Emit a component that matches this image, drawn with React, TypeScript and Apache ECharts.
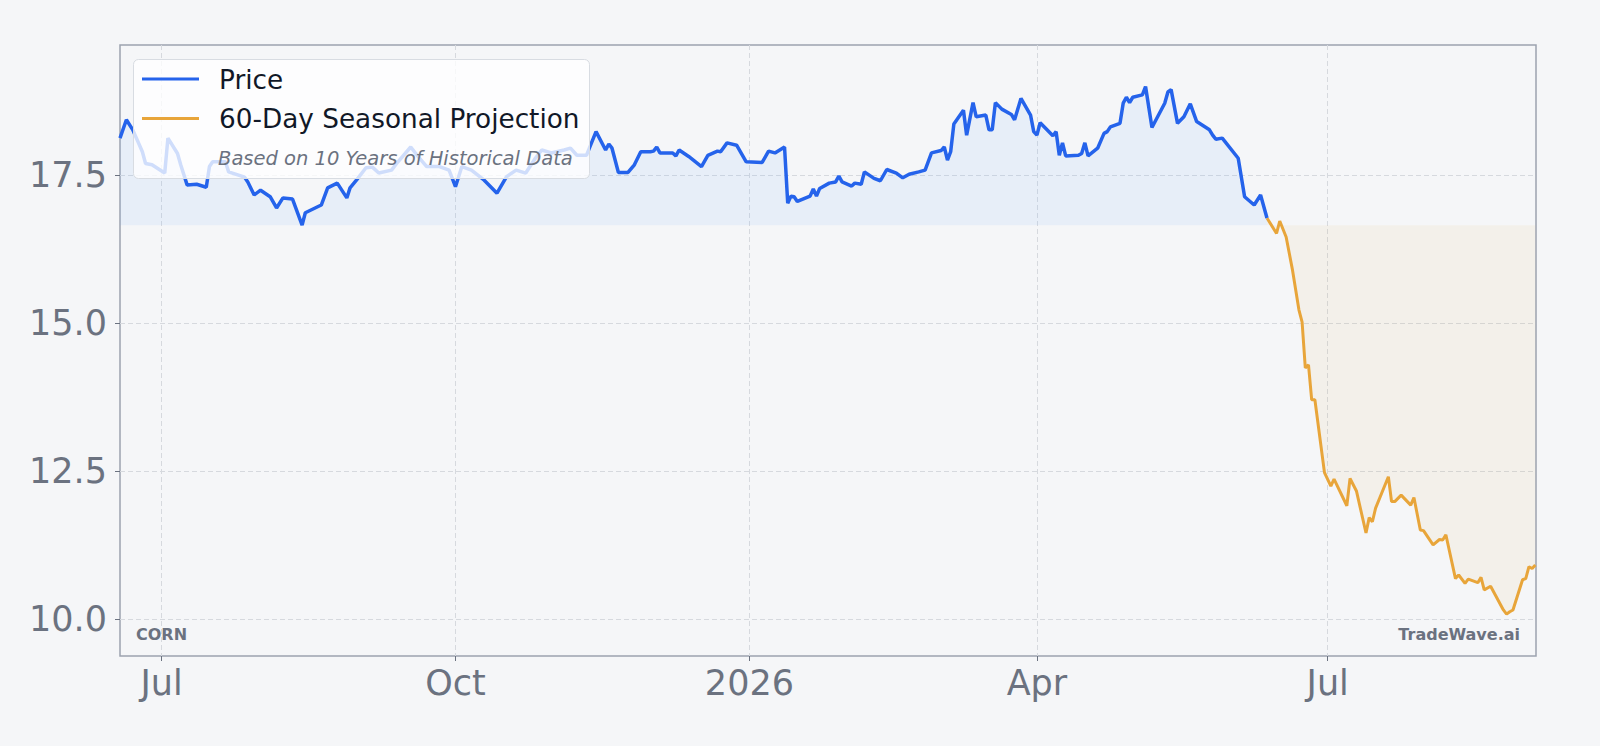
import { useEffect, useRef } from 'react';
import * as echarts from 'echarts';

// Daily closes
const priceDates = [
  '2025-06-18', '2025-06-20', '2025-06-22', '2025-06-25', '2025-06-26', '2025-06-28',
  '2025-07-02', '2025-07-03', '2025-07-06', '2025-07-07', '2025-07-09', '2025-07-12',
  '2025-07-15', '2025-07-16', '2025-07-17', '2025-07-21', '2025-07-22', '2025-07-27',
  '2025-07-28', '2025-07-30', '2025-08-01', '2025-08-04', '2025-08-06', '2025-08-08',
  '2025-08-11', '2025-08-14', '2025-08-15', '2025-08-20', '2025-08-22', '2025-08-25',
  '2025-08-28', '2025-08-29', '2025-08-31', '2025-09-03', '2025-09-05', '2025-09-07',
  '2025-09-11', '2025-09-13', '2025-09-17', '2025-09-19', '2025-09-22', '2025-09-26',
  '2025-09-29', '2025-10-01', '2025-10-03', '2025-10-06', '2025-10-10', '2025-10-14',
  '2025-10-17', '2025-10-20', '2025-10-23', '2025-10-26', '2025-10-28', '2025-10-31',
  '2025-11-04', '2025-11-06', '2025-11-08', '2025-11-11', '2025-11-14', '2025-11-17',
  '2025-11-18', '2025-11-19', '2025-11-21', '2025-11-24', '2025-11-26', '2025-11-28',
  '2025-12-01', '2025-12-02', '2025-12-03', '2025-12-04', '2025-12-08', '2025-12-09',
  '2025-12-10', '2025-12-13', '2025-12-17', '2025-12-19', '2025-12-22', '2025-12-23',
  '2025-12-25', '2025-12-28', '2025-12-31', '2026-01-05', '2026-01-07', '2026-01-09',
  '2026-01-12', '2026-01-13', '2026-01-14', '2026-01-15', '2026-01-16', '2026-01-20',
  '2026-01-21', '2026-01-22', '2026-01-23', '2026-01-26', '2026-01-28', '2026-01-29',
  '2026-01-30', '2026-02-02', '2026-02-03', '2026-02-05', '2026-02-06', '2026-02-09',
  '2026-02-11', '2026-02-13', '2026-02-16', '2026-02-18', '2026-02-20', '2026-02-23',
  '2026-02-25', '2026-02-27', '2026-03-02', '2026-03-03', '2026-03-04', '2026-03-05',
  '2026-03-06', '2026-03-09', '2026-03-10', '2026-03-12', '2026-03-13', '2026-03-16',
  '2026-03-17', '2026-03-18', '2026-03-19', '2026-03-21', '2026-03-24', '2026-03-25',
  '2026-03-27', '2026-03-30', '2026-03-31', '2026-04-01', '2026-04-02', '2026-04-06',
  '2026-04-07', '2026-04-08', '2026-04-09', '2026-04-10', '2026-04-14', '2026-04-15',
  '2026-04-16', '2026-04-17', '2026-04-20', '2026-04-22', '2026-04-23', '2026-04-24',
  '2026-04-27', '2026-04-28', '2026-04-29', '2026-04-30', '2026-05-01', '2026-05-04',
  '2026-05-05', '2026-05-07', '2026-05-11', '2026-05-12', '2026-05-13', '2026-05-15',
  '2026-05-17', '2026-05-19', '2026-05-21', '2026-05-25', '2026-05-26', '2026-05-27',
  '2026-05-29', '2026-06-03', '2026-06-05', '2026-06-08', '2026-06-10', '2026-06-12',
];
const priceValues = [
  18.13, 18.44, 18.27, 17.9, 17.7, 17.68,
  17.54, 18.13, 17.87, 17.68, 17.34, 17.35,
  17.3, 17.65, 17.73, 17.73, 17.56, 17.47,
  17.39, 17.17, 17.25, 17.14, 16.95, 17.12,
  17.1, 16.66, 16.87, 17.0, 17.29, 17.37,
  17.12, 17.29, 17.42, 17.63, 17.64, 17.54,
  17.59, 17.73, 17.98, 17.84, 17.65, 17.65,
  17.59, 17.31, 17.65, 17.59, 17.42, 17.2,
  17.48, 17.59, 17.54, 17.79, 17.93, 17.88,
  17.93, 17.96, 17.84, 17.84, 18.24, 17.93,
  18.03, 17.96, 17.55, 17.55, 17.68, 17.9,
  17.9, 17.91, 17.98, 17.88, 17.88, 17.83,
  17.93, 17.82, 17.65, 17.84, 17.91, 17.9,
  18.05, 18.01, 17.73, 17.72, 17.91, 17.88,
  17.98, 17.03, 17.15, 17.14, 17.06, 17.15,
  17.27, 17.15, 17.28, 17.37, 17.39, 17.49,
  17.39, 17.32, 17.37, 17.35, 17.56, 17.45,
  17.41, 17.6, 17.54, 17.46, 17.52, 17.56,
  17.59, 17.88, 17.92, 17.98, 17.76, 17.9,
  18.37, 18.6, 18.18, 18.73, 18.49, 18.52,
  18.27, 18.27, 18.73, 18.62, 18.53, 18.44,
  18.8, 18.52, 18.24, 18.18, 18.39, 18.17,
  18.24, 17.84, 18.05, 17.83, 17.84, 17.87,
  18.05, 17.83, 17.96, 18.21, 18.24, 18.32,
  18.38, 18.72, 18.82, 18.73, 18.82, 18.86,
  19.0, 18.31, 18.72, 18.91, 18.95, 18.38,
  18.49, 18.71, 18.41, 18.27, 18.18, 18.11,
  18.13, 17.79, 17.14, 17.0, 17.17, 16.78,
];

// 60-day seasonal projection
const projectionDates = [
  '2026-06-12', '2026-06-15', '2026-06-16', '2026-06-18', '2026-06-20', '2026-06-22',
  '2026-06-23', '2026-06-24', '2026-06-25', '2026-06-26', '2026-06-27', '2026-06-30',
  '2026-07-02', '2026-07-03', '2026-07-07', '2026-07-08', '2026-07-10', '2026-07-13',
  '2026-07-14', '2026-07-15', '2026-07-16', '2026-07-20', '2026-07-21', '2026-07-22',
  '2026-07-24', '2026-07-27', '2026-07-28', '2026-07-30', '2026-07-31', '2026-08-03',
  '2026-08-05', '2026-08-06', '2026-08-07', '2026-08-10', '2026-08-11', '2026-08-13',
  '2026-08-14', '2026-08-17', '2026-08-18', '2026-08-19', '2026-08-21', '2026-08-25',
  '2026-08-26', '2026-08-27', '2026-08-28', '2026-08-31', '2026-09-01', '2026-09-02',
  '2026-09-03', '2026-09-04',
];
const projectionValues = [
  16.78, 16.52, 16.73, 16.46, 15.9, 15.23,
  15.02, 14.25, 14.3, 13.71, 13.71, 12.48,
  12.25, 12.37, 11.92, 12.38, 12.17, 11.46,
  11.72, 11.65, 11.88, 12.41, 11.99, 11.99,
  12.1, 11.93, 12.06, 11.51, 11.5, 11.26,
  11.35, 11.34, 11.43, 10.69, 10.75, 10.61,
  10.68, 10.62, 10.71, 10.5, 10.56, 10.16,
  10.09, 10.13, 10.16, 10.67, 10.69, 10.89,
  10.86, 10.92,
];

const xTicks = ['2025-07-01', '2025-10-01', '2026-01-01', '2026-04-01', '2026-07-01'];
const yTicks = [10, 12.5, 15, 17.5];
const monthNames = ['Jan', 'Feb', 'Mar', 'Apr', 'May', 'Jun', 'Jul', 'Aug', 'Sep', 'Oct', 'Nov', 'Dec'];

const FONT = 'DejaVu Sans';
const BLUE = '#2563eb';
const ORANGE = '#e8a53a';

// local-time timestamp from 'YYYY-MM-DD'
const ts = (s: string, hour = 0) => {
  const [y, m, d] = s.split('-').map(Number);
  return new Date(y, m - 1, d, hour).getTime();
};

export default function App() {
  const chartRef = useRef<HTMLDivElement>(null);

  useEffect(() => {
    if (!chartRef.current) return;
    const chart = echarts.init(chartRef.current, undefined, { renderer: 'svg' });

    const baseline = Math.min(...priceValues);
    const xTickValues = xTicks.map((s) => ts(s));

    const option = {
      animation: false,
      backgroundColor: '#f5f6f8',
      grid: {
        left: 120,
        top: 45,
        right: 64,
        bottom: 90,
        show: true,
        borderColor: '#9ca3af',
        borderWidth: 1.5,
        backgroundColor: 'transparent',
      },
      xAxis: {
        type: 'value',
        min: ts('2025-06-18'),
        max: ts('2026-09-04', 5),
        axisLine: { show: false },
        axisTick: {
          show: true,
          length: 5,
          lineStyle: { color: '#6b7280' },
          customValues: xTickValues,
        },
        axisLabel: {
          customValues: xTickValues,
          color: '#6b7280',
          fontSize: 35,
          fontFamily: FONT,
          margin: 9,
          formatter: (value: number) => {
            const d = new Date(value);
            return d.getMonth() === 0 ? String(d.getFullYear()) : monthNames[d.getMonth()];
          },
        },
        splitLine: {
          show: true,
          lineStyle: { color: '#d6d9de', type: [5, 3], width: 1 },
        },
      },
      yAxis: {
        type: 'value',
        min: 9.382,
        max: 19.703,
        axisLine: { show: false },
        axisTick: {
          show: true,
          length: 5,
          lineStyle: { color: '#6b7280' },
          customValues: yTicks,
        },
        axisLabel: {
          customValues: yTicks,
          color: '#6b7280',
          fontSize: 35,
          fontFamily: FONT,
          margin: 13,
          formatter: (v: number) => v.toFixed(1),
        },
        splitLine: {
          show: true,
          lineStyle: { color: '#d6d9de', type: [5, 3], width: 1 },
        },
      },
      series: [
        {
          name: 'Price',
          type: 'line',
          data: priceDates.map((d, i) => [ts(d), priceValues[i]]),
          showSymbol: false,
          lineStyle: { color: BLUE, width: 3.5 },
          itemStyle: { color: BLUE },
          areaStyle: { origin: baseline, color: 'rgba(96, 165, 250, 0.13)' },
          z: 3,
        },
        {
          name: '60-Day Seasonal Projection',
          type: 'line',
          data: projectionDates.map((d, i) => [ts(d), projectionValues[i]]),
          showSymbol: false,
          lineStyle: { color: ORANGE, width: 3 },
          itemStyle: { color: ORANGE },
          areaStyle: { origin: baseline, color: 'rgba(232, 165, 58, 0.1)' },
          z: 2,
        },
      ],
      graphic: [
        {
          type: 'rect',
          z: 100,
          shape: { x: 133.5, y: 59.5, width: 456, height: 119, r: 5 },
          style: { fill: 'rgba(255, 255, 255, 0.78)', stroke: '#d8dce2', lineWidth: 1 },
        },
        {
          type: 'line',
          z: 101,
          shape: { x1: 142, y1: 79, x2: 199, y2: 79 },
          style: { stroke: BLUE, lineWidth: 3 },
        },
        {
          type: 'line',
          z: 101,
          shape: { x1: 142, y1: 118.5, x2: 199, y2: 118.5 },
          style: { stroke: ORANGE, lineWidth: 3 },
        },
        {
          type: 'text',
          z: 101,
          x: 219,
          y: 79.5,
          style: {
            text: 'Price',
            fill: '#111827',
            font: `26.3px "${FONT}"`,
            verticalAlign: 'middle',
          },
        },
        {
          type: 'text',
          z: 101,
          x: 219,
          y: 119,
          style: {
            text: '60-Day Seasonal Projection',
            fill: '#111827',
            font: `26.3px "${FONT}"`,
            verticalAlign: 'middle',
          },
        },
        {
          type: 'text',
          z: 101,
          x: 218,
          y: 158.5,
          style: {
            text: 'Based on 10 Years of Historical Data',
            fill: '#6b7280',
            font: `italic 19.5px "${FONT}"`,
            verticalAlign: 'middle',
          },
        },
        {
          type: 'text',
          z: 101,
          x: 136,
          y: 634,
          style: {
            text: 'CORN',
            fill: '#6b7280',
            font: `bold 16px "${FONT}"`,
            verticalAlign: 'middle',
          },
        },
        {
          type: 'text',
          z: 101,
          x: 1520,
          y: 634,
          style: {
            text: 'TradeWave.ai',
            fill: '#6b7280',
            font: `bold 16px "${FONT}"`,
            align: 'right',
            verticalAlign: 'middle',
          },
        },
      ],
    };

    chart.setOption(option);

    const handleResize = () => chart.resize();
    window.addEventListener('resize', handleResize);
    return () => {
      window.removeEventListener('resize', handleResize);
      chart.dispose();
    };
  }, []);

  return (
    <div
      ref={chartRef}
      style={{ position: 'fixed', left: 0, top: 0, width: '1600px', height: '746px' }}
    />
  );
}
